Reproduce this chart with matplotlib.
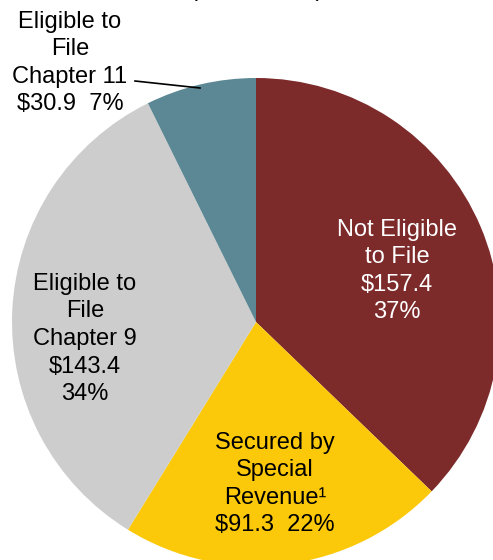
import matplotlib.pyplot as plt

# municipal debt by bankruptcy eligibility, $ billions
categories = ["Not Eligible\nto File", "Secured by\nSpecial\nRevenue\u00b9",
              "Eligible to\nFile\nChapter 9", "Eligible to\nFile\nChapter 11"]
amounts = [157.4, 91.3, 143.4, 30.9]
percents = [37, 22, 34, 7]
colors = ["#7D2A2B", "#FBC90A", "#CDCDCD", "#5B8894"]

plt.rcParams['font.family'] = ['Liberation Sans', 'DejaVu Sans']

W, H = 493, 560
fig = plt.figure(figsize=(W / 100, H / 100), dpi=100)
ax = fig.add_axes([0, 0, 1, 1])

cx, cy, r = 256, H - 322, 244
ax.pie(amounts, colors=colors, startangle=90, counterclock=False,
       center=(cx, cy), radius=r, frame=True,
       wedgeprops=dict(linewidth=0))
ax.set_xlim(0, W)
ax.set_ylim(0, H)
ax.set_aspect('equal')
ax.axis('off')


def img(y):
    return H - y


fs = 17
ls = 1.33
ax.text(397, img(271), f"{categories[0]}\n${amounts[0]}\n{percents[0]}%",
        ha='center', va='center', color='white', fontsize=fs, linespacing=ls)
ax.text(275, img(484), f"{categories[1]}\n${amounts[1]}  {percents[1]}%",
        ha='center', va='center', color='black', fontsize=fs, linespacing=ls)
ax.text(85, img(339), f"{categories[2]}\n${amounts[2]}\n{percents[2]}%",
        ha='center', va='center', color='black', fontsize=fs, linespacing=ls)
ax.text(70, img(63), f"{categories[3]}\n${amounts[3]}  {percents[3]}%",
        ha='center', va='center', color='black', fontsize=fs, linespacing=ls)

# leader line for the small slice
ax.plot([135, 200], [img(81), img(88)], color='black', linewidth=1.2)

# units line sits mostly above the top edge
ax.text(257, img(-4), "($ in billions)", ha='center', va='baseline',
        fontsize=fs, color='black')

fig.savefig("out.png", dpi=100)
